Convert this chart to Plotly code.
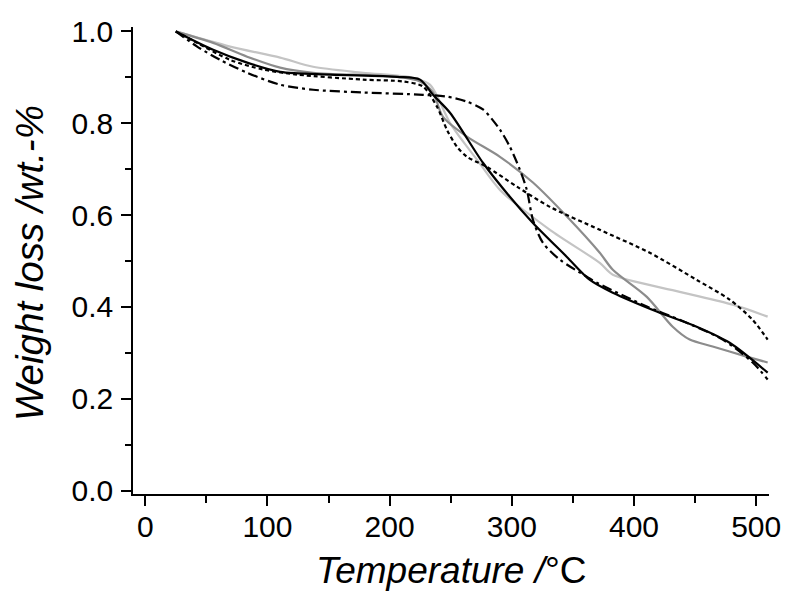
import plotly.graph_objects as go

# Temperature (°C) and weight fraction for each TGA curve
t_light = [25, 69.5, 110.4, 137.4, 178.2, 219.1, 233.0, 249.4, 263.3, 271.5, 290.3, 331.2, 372.0, 382.7, 437.4, 480.8, 509.4]
w_light = [1.0, 0.967, 0.943, 0.923, 0.910, 0.899, 0.884, 0.801, 0.749, 0.721, 0.655, 0.568, 0.496, 0.470, 0.433, 0.405, 0.379]

t_mid = [25, 55.6, 83.4, 110.4, 137.4, 206.1, 224.9, 235.5, 243.7, 263.3, 290.3, 317.3, 345.1, 372.0, 382.7, 410.5, 431.7, 445.6, 464.4, 492.2, 509.4]
w_mid = [1.0, 0.975, 0.945, 0.921, 0.910, 0.901, 0.891, 0.867, 0.814, 0.771, 0.727, 0.671, 0.597, 0.518, 0.481, 0.422, 0.357, 0.329, 0.314, 0.292, 0.279]

t_black = [25, 55.6, 83.4, 110.4, 151.3, 206.1, 224.9, 235.5, 249.4, 276.4, 298.4, 317.3, 345.1, 363.9, 382.7, 418.6, 451.3, 478.3, 509.4]
w_black = [1.0, 0.960, 0.932, 0.912, 0.906, 0.901, 0.895, 0.862, 0.823, 0.714, 0.640, 0.583, 0.509, 0.459, 0.431, 0.390, 0.357, 0.322, 0.257]

t_dash = [25, 42.5, 69.5, 96.5, 124.3, 178.2, 210.9, 227.3, 238.8, 246.9, 255.1, 263.3, 279.6, 304.2, 331.2, 372.0, 412.9, 451.3, 478.3, 497.1, 509.4]
w_dash = [1.0, 0.975, 0.938, 0.917, 0.906, 0.895, 0.891, 0.880, 0.836, 0.786, 0.749, 0.727, 0.705, 0.662, 0.618, 0.568, 0.518, 0.459, 0.416, 0.372, 0.329]

t_dashdot = [25, 42.5, 61.3, 83.4, 110.4, 137.4, 178.2, 227.3, 246.9, 263.3, 276.4, 290.3, 298.4, 306.6, 312.3, 317.3, 325.4, 339.3, 361.4, 369.6, 410.5, 437.4, 472.6, 497.1, 509.4]
w_dashdot = [1.0, 0.967, 0.938, 0.910, 0.884, 0.873, 0.867, 0.862, 0.858, 0.847, 0.830, 0.786, 0.749, 0.699, 0.655, 0.590, 0.540, 0.503, 0.466, 0.453, 0.401, 0.372, 0.329, 0.279, 0.242]

x_ticks = [0, 100, 200, 300, 400, 500]
y_ticks = [0.0, 0.2, 0.4, 0.6, 0.8, 1.0]
x_title = "<i>Temperature /</i>°C"
y_title = "<i>Weight loss /wt.-%</i>"

fig = go.Figure()
series = [
    (t_light, w_light, "#c4c4c4", "solid"),
    (t_mid, w_mid, "#8c8c8c", "solid"),
    (t_dash, w_dash, "#000000", "4px,3px"),
    (t_dashdot, w_dashdot, "#000000", "10px,4px,3px,4px"),
    (t_black, w_black, "#000000", "solid"),
]
for t, w, c, d in series:
    fig.add_trace(go.Scatter(x=t, y=w, mode="lines",
                             line=dict(color=c, width=2.2, dash=d, shape="spline", smoothing=0.8),
                             showlegend=False, hoverinfo="skip"))

font = "Liberation Sans, Arial, sans-serif"
fig.update_layout(
    width=792, height=602,
    margin=dict(l=125, r=31, t=19, b=116),
    paper_bgcolor="white", plot_bgcolor="white",
    font=dict(family=font, color="black"),
)
fig.update_xaxes(
    range=[-10, 510.5], tickvals=x_ticks, ticktext=[str(v) for v in x_ticks],
    showgrid=False, zeroline=False, showline=True, linecolor="black", linewidth=1.5,
    ticks="outside", ticklen=10, tickwidth=1.5, tickcolor="black",
    minor=dict(ticks="outside", ticklen=7, tickwidth=1.5, tickcolor="black", dtick=50, tick0=50),
    tickfont=dict(size=30, family=font), automargin=False, ticklabelstandoff=-5,
)
fig.update_yaxes(
    range=[-0.0072, 1.0096], tickvals=y_ticks, ticktext=[f"{v:.1f}" for v in y_ticks],
    showgrid=False, zeroline=False, showline=True, linecolor="black", linewidth=1.5,
    ticks="outside", ticklen=10, tickwidth=1.5, tickcolor="black",
    minor=dict(ticks="outside", ticklen=6, tickwidth=1.5, tickcolor="black", dtick=0.1, tick0=0.1),
    tickfont=dict(size=30, family=font), automargin=False, ticklabelstandoff=2,
)
fig.add_annotation(text=x_title, xref="paper", yref="paper", x=0.5, y=0,
                   xanchor="center", yanchor="middle", yshift=-76, showarrow=False,
                   font=dict(size=37, family=font, color="black"))
fig.add_annotation(text=y_title, xref="paper", yref="paper", x=0, y=0.4946,
                   xanchor="center", yanchor="middle", xshift=-104, textangle=-90, showarrow=False,
                   font=dict(size=38.5, family=font, color="black"))
fig.write_html("out.html")
